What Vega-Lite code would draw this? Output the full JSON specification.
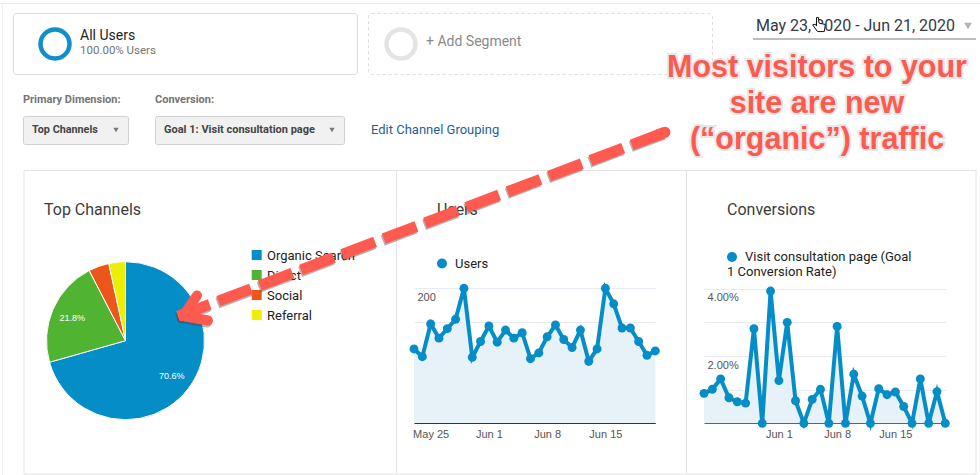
{
"$schema":"https://vega.github.io/schema/vega-lite/v6.json",
"width":980,"height":475,"padding":0,"autosize":{"type":"none"},"background":"white",
"config":{"view":{"stroke":null},"font":"Roboto"},
"data":{"values":[{}]},
"resolve":{"scale":{"x":"independent","y":"independent","color":"independent","theta":"independent"},"axis":{"x":"independent","y":"independent"},"legend":{"color":"independent"}},
"layer":[
{"mark":{"type":"rule","stroke":"#e6e8ee","strokeWidth":1},"encoding":{"x":{"value":0},"x2":{"value":980},"y":{"value":3.5},"y2":{"value":3.5}}},
{"mark":{"type":"rule","stroke":"#f0f1f5","strokeWidth":1},"encoding":{"x":{"value":2.5},"x2":{"value":2.5},"y":{"value":3.5},"y2":{"value":475}}},
{"mark":{"type":"rect","x":13.5,"y":13.5,"x2":357.5,"y2":74.5,"fill":"transparent","stroke":"#dddddd","cornerRadius":3},"encoding":{}},
{"mark":{"type":"rect","x":368.5,"y":13.5,"x2":712.5,"y2":74.5,"fill":"transparent","stroke":"#dddddd","strokeDash":[3,3],"cornerRadius":3},"encoding":{}},
{"mark":{"type":"point","x":55,"y":44,"size":841,"filled":false,"stroke":"#118fc9","strokeWidth":4.5,"opacity":1},"encoding":{}},
{"mark":{"type":"point","x":401,"y":44,"size":841,"filled":false,"stroke":"#e4e4e4","strokeWidth":4.5,"opacity":1},"encoding":{}},
{"mark":{"type":"text","text":"All Users","x":80,"y":36,"align":"left","baseline":"middle","fontSize":14,"color":"#222222"},"encoding":{}},
{"mark":{"type":"text","text":"100.00% Users","x":80,"y":51,"align":"left","baseline":"middle","fontSize":11.5,"color":"#757575"},"encoding":{}},
{"mark":{"type":"text","text":"+ Add Segment","x":426,"y":42,"align":"left","baseline":"middle","fontSize":14,"color":"#8a8a8a"},"encoding":{}},
{"mark":{"type":"text","text":"May 23, 2020 - Jun 21, 2020","x":756,"y":26,"align":"left","baseline":"middle","fontSize":16,"color":"#333a45"},"encoding":{}},
{"mark":{"type":"point","x":968,"y":26,"size":60,"shape":"triangle-down","filled":true,"color":"#b5b5b5","opacity":1},"encoding":{}},
{"mark":{"type":"rule","stroke":"#bdbdbd","strokeWidth":2},"encoding":{"x":{"value":753},"x2":{"value":976},"y":{"value":39},"y2":{"value":39}}},
{"mark":{"type":"point","x":819,"y":24.5,"size":200,"shape":"M-0.35,-1 L-0.1,-1 L0,-0.2 L0.9,0 L0.75,1 L-0.2,1 L-0.9,0.05 L-0.55,-0.05 L-0.35,0.2 Z","filled":true,"fill":"white","stroke":"#111111","strokeWidth":1,"opacity":1},"encoding":{}},
{"mark":{"type":"text","text":"Primary Dimension:","x":23,"y":100,"align":"left","baseline":"middle","fontSize":11,"fontWeight":"bold","color":"#757575"},"encoding":{}},
{"mark":{"type":"text","text":"Conversion:","x":155,"y":100,"align":"left","baseline":"middle","fontSize":11,"fontWeight":"bold","color":"#757575"},"encoding":{}},
{"mark":{"type":"rect","x":23.5,"y":116.5,"x2":128.5,"y2":144.5,"fill":"#f1f1f1","stroke":"#d0d0d0","cornerRadius":2},"encoding":{}},
{"mark":{"type":"rect","x":155.5,"y":116.5,"x2":344.5,"y2":144.5,"fill":"#f1f1f1","stroke":"#d0d0d0","cornerRadius":2},"encoding":{}},
{"mark":{"type":"text","text":"Top Channels","x":32,"y":129.5,"align":"left","baseline":"middle","fontSize":10.8,"fontWeight":"bold","color":"#444444"},"encoding":{}},
{"mark":{"type":"text","text":"Goal 1: Visit consultation page","x":164,"y":129.5,"align":"left","baseline":"middle","fontSize":11,"fontWeight":"bold","color":"#444444"},"encoding":{}},
{"mark":{"type":"point","x":116,"y":130,"size":28,"shape":"triangle-down","filled":true,"color":"#777777","opacity":1},"encoding":{}},
{"mark":{"type":"point","x":332,"y":130,"size":28,"shape":"triangle-down","filled":true,"color":"#777777","opacity":1},"encoding":{}},
{"mark":{"type":"text","text":"Edit Channel Grouping","x":371,"y":130,"align":"left","baseline":"middle","fontSize":13,"color":"#1f5f97"},"encoding":{}},
{"mark":{"type":"rect","x":24,"y":170.5,"x2":976,"y2":474,"fill":"transparent","stroke":"#e4e4e4"},"encoding":{}},
{"mark":{"type":"rule","stroke":"#e4e4e4"},"encoding":{"x":{"value":396.5},"x2":{"value":396.5},"y":{"value":170},"y2":{"value":474}}},
{"mark":{"type":"rule","stroke":"#e4e4e4"},"encoding":{"x":{"value":686.5},"x2":{"value":686.5},"y":{"value":170},"y2":{"value":474}}},
{"mark":{"type":"text","text":"Top Channels","x":44,"y":209.5,"align":"left","baseline":"middle","fontSize":16,"color":"#3c3c3c"},"encoding":{}},
{"mark":{"type":"text","text":"Users","x":437,"y":209.5,"align":"left","baseline":"middle","fontSize":16,"color":"#3c3c3c"},"encoding":{}},
{"mark":{"type":"text","text":"Conversions","x":727,"y":209.5,"align":"left","baseline":"middle","fontSize":16,"color":"#3c3c3c"},"encoding":{}},
{"data":{"values":[
{"channel":"Organic Search","share":0.706,"rank":1},
{"channel":"Direct","share":0.218,"rank":2},
{"channel":"Social","share":0.042,"rank":3},
{"channel":"Referral","share":0.034,"rank":4}]},
"layer":[
{"mark":{"type":"arc","x":125.5,"y":340.7,"radius":79,"stroke":"white","strokeWidth":1},
"encoding":{"theta":{"field":"share","type":"quantitative","stack":true},"order":{"field":"rank"},
"color":{"field":"channel","type":"nominal","scale":{"domain":["Organic Search","Direct","Social","Referral"],"range":["#058DC7","#50B432","#ED561B","#EDEF00"]},"legend":null}}},
{"mark":{"type":"text","x":125.5,"y":340.7,"radius":58,"color":"white","fontSize":9,"font":"Liberation Sans"},
"encoding":{"theta":{"field":"share","type":"quantitative","stack":true},"order":{"field":"rank"},"detail":{"field":"channel"},
"text":{"condition":{"test":"datum.share > 0.1","field":"share","type":"quantitative","format":".1%"},"value":""}}},
{"mark":{"type":"point","shape":"square","filled":true,"size":100,"x":256.7,"opacity":1},
"encoding":{"y":{"field":"channel","type":"nominal","sort":null,"scale":{"type":"point","padding":0,"domain":["Organic Search","Direct","Social","Referral"],"range":[255,315]},"axis":null},
"color":{"field":"channel","type":"nominal","legend":null}}},
{"mark":{"type":"text","x":267,"align":"left","baseline":"middle","dy":0.7,"fontSize":13,"color":"#222222"},
"encoding":{"y":{"field":"channel","type":"nominal","sort":null,"axis":null},"text":{"field":"channel"}}}
]},
{"data":{"values":[
{"day":"May 23","users":110},{"day":"May 24","users":98.5},{"day":"May 25","users":147},{"day":"May 26","users":126},{"day":"May 27","users":140},{"day":"May 28","users":154},{"day":"May 29","users":200},{"day":"May 30","users":97.5},{"day":"May 31","users":121},{"day":"Jun 1","users":144},{"day":"Jun 2","users":120},{"day":"Jun 3","users":138},{"day":"Jun 4","users":126},{"day":"Jun 5","users":134},{"day":"Jun 6","users":95.5},{"day":"Jun 7","users":104},{"day":"Jun 8","users":128},{"day":"Jun 9","users":145.5},{"day":"Jun 10","users":124},{"day":"Jun 11","users":112},{"day":"Jun 12","users":138},{"day":"Jun 13","users":91.5},{"day":"Jun 14","users":110},{"day":"Jun 15","users":200},{"day":"Jun 16","users":177},{"day":"Jun 17","users":141},{"day":"Jun 18","users":141},{"day":"Jun 19","users":121},{"day":"Jun 20","users":100.5},{"day":"Jun 21","users":107}]},
"encoding":{
"x":{"field":"day","type":"ordinal","sort":null,"scale":{"type":"point","padding":0,"range":[414,655.3]},
"axis":{"title":null,"orient":"bottom","values":["May 25","Jun 1","Jun 8","Jun 15"],"labelAngle":0,"offset":-52,"ticks":false,"grid":false,"domainColor":"#333333","domainWidth":1,"labelPadding":5,"labelFontSize":11,"labelColor":"#555555","labelFont":"Liberation Sans"}},
"y":{"field":"users","type":"quantitative","scale":{"domain":[0,200],"range":[423,288.3],"nice":false},
"axis":{"title":null,"orient":"left","offset":-417,"values":[50,100,150,200],"labelExpr":"datum.value % 100 === 0 ? datum.label : ''","ticks":false,"domain":false,"grid":true,"gridColor":"#e8ecf1","labelAlign":"left","labelBaseline":"top","labelOffset":3,"labelPadding":0,"labelFontSize":11,"labelColor":"#555555","labelFont":"Liberation Sans"}}},
"layer":[
{"mark":{"type":"area","color":"#e6f1f8","opacity":1}},
{"mark":{"type":"line","color":"#058DC7","strokeWidth":4}},
{"mark":{"type":"point","filled":true,"size":80,"opacity":1},
"encoding":{"color":{"datum":"Users","scale":{"range":["#058DC7"]},"legend":{"title":null,"orient":"none","legendX":435.5,"legendY":257,"symbolType":"circle","symbolSize":100,"labelFontSize":13,"labelColor":"#222222","labelFont":"Roboto","labelOffset":6.5,"padding":0}}}}
]},
{"data":{"values":[
{"day":"May 23","rate":0.89},{"day":"May 24","rate":1.01},{"day":"May 25","rate":1.32},{"day":"May 26","rate":0.76},{"day":"May 27","rate":0.64},{"day":"May 28","rate":0.6},{"day":"May 29","rate":2.81},{"day":"May 30","rate":0},{"day":"May 31","rate":3.93},{"day":"Jun 1","rate":1.27},{"day":"Jun 2","rate":3.0},{"day":"Jun 3","rate":0.67},{"day":"Jun 4","rate":0},{"day":"Jun 5","rate":0.71},{"day":"Jun 6","rate":1.01},{"day":"Jun 7","rate":0},{"day":"Jun 8","rate":2.88},{"day":"Jun 9","rate":0},{"day":"Jun 10","rate":1.46},{"day":"Jun 11","rate":0.81},{"day":"Jun 12","rate":0},{"day":"Jun 13","rate":1.03},{"day":"Jun 14","rate":0.85},{"day":"Jun 15","rate":0.93},{"day":"Jun 16","rate":0.5},{"day":"Jun 17","rate":0},{"day":"Jun 18","rate":1.32},{"day":"Jun 19","rate":0},{"day":"Jun 20","rate":0.94},{"day":"Jun 21","rate":0}]},
"encoding":{
"x":{"field":"day","type":"ordinal","sort":null,"scale":{"type":"point","padding":0,"range":[704,945.3]},
"axis":{"title":null,"orient":"bottom","values":["Jun 1","Jun 8","Jun 15"],"labelAngle":0,"offset":-52,"ticks":false,"grid":false,"domainColor":"#333333","domainWidth":1,"labelPadding":5,"labelFontSize":11,"labelColor":"#555555","labelFont":"Liberation Sans"}},
"y":{"field":"rate","type":"quantitative","scale":{"domain":[0,4],"range":[423.3,288.7],"nice":false},
"axis":{"title":null,"orient":"left","offset":-707,"values":[1,2,3,4],"labelExpr":"datum.value % 2 === 0 ? format(datum.value, '.2f') + '%' : ''","ticks":false,"domain":false,"grid":true,"gridColor":"#e8ecf1","labelAlign":"left","labelBaseline":"top","labelOffset":3,"labelPadding":0,"labelFontSize":11,"labelColor":"#555555","labelFont":"Liberation Sans"}}},
"layer":[
{"mark":{"type":"area","color":"#e6f1f8","opacity":1}},
{"mark":{"type":"line","color":"#058DC7","strokeWidth":4}},
{"mark":{"type":"point","filled":true,"size":80,"opacity":1},
"encoding":{"color":{"datum":"Visit consultation page (Goal","scale":{"range":["#058DC7"]},"legend":{"title":null,"orient":"none","legendX":725.5,"legendY":250.5,"symbolType":"circle","symbolSize":100,"labelFontSize":13,"labelColor":"#222222","labelFont":"Roboto","labelOffset":6.5,"labelLimit":240,"padding":0}}}}
]},
{"mark":{"type":"text","text":"1 Conversion Rate)","x":727,"y":272,"align":"left","baseline":"middle","fontSize":13,"color":"#222222"},"encoding":{}},
{"mark":{"type":"rule","stroke":"#444444","strokeWidth":11,"strokeDash":[35,9.2],"opacity":0.4},"encoding":{"x":{"value":663.5},"y":{"value":134.3},"x2":{"value":177},"y2":{"value":318.4}}},
{"mark":{"type":"rule","stroke":"#444444","strokeWidth":10,"strokeCap":"round","opacity":0.4},"encoding":{"x":{"value":182},"y":{"value":318},"x2":{"value":207},"y2":{"value":322.5}}},
{"mark":{"type":"rule","stroke":"#FF5A50","strokeWidth":11,"strokeDash":[35,9.2]},"encoding":{"x":{"value":664.5},"y":{"value":132.5},"x2":{"value":178},"y2":{"value":316.4}}},
{"mark":{"type":"rule","stroke":"#FF5A50","strokeWidth":11,"strokeCap":"round"},"encoding":{"x":{"value":665},"y":{"value":132.3},"x2":{"value":658},"y2":{"value":135}}},
{"mark":{"type":"rule","stroke":"#FF5A50","strokeWidth":10,"strokeCap":"round"},"encoding":{"x":{"value":183},"y":{"value":316},"x2":{"value":197},"y2":{"value":295.5}}},
{"mark":{"type":"rule","stroke":"#FF5A50","strokeWidth":10,"strokeCap":"round"},"encoding":{"x":{"value":183},"y":{"value":316},"x2":{"value":208},"y2":{"value":320.5}}},
{"mark":{"type":"text","text":["Most visitors to your","site are new","(“organic”) traffic"],"x":817,"y":68,"align":"center","baseline":"middle","lineHeight":36,"font":"Liberation Sans","fontWeight":"bold","fontSize":30.5,"fill":"white","stroke":"#e8e8e8","strokeWidth":4},"encoding":{}},
{"mark":{"type":"text","text":["Most visitors to your","site are new","(“organic”) traffic"],"x":817,"y":68,"align":"center","baseline":"middle","lineHeight":36,"font":"Liberation Sans","fontWeight":"bold","fontSize":30.5,"color":"#FF5A50"},"encoding":{}}
]
}
